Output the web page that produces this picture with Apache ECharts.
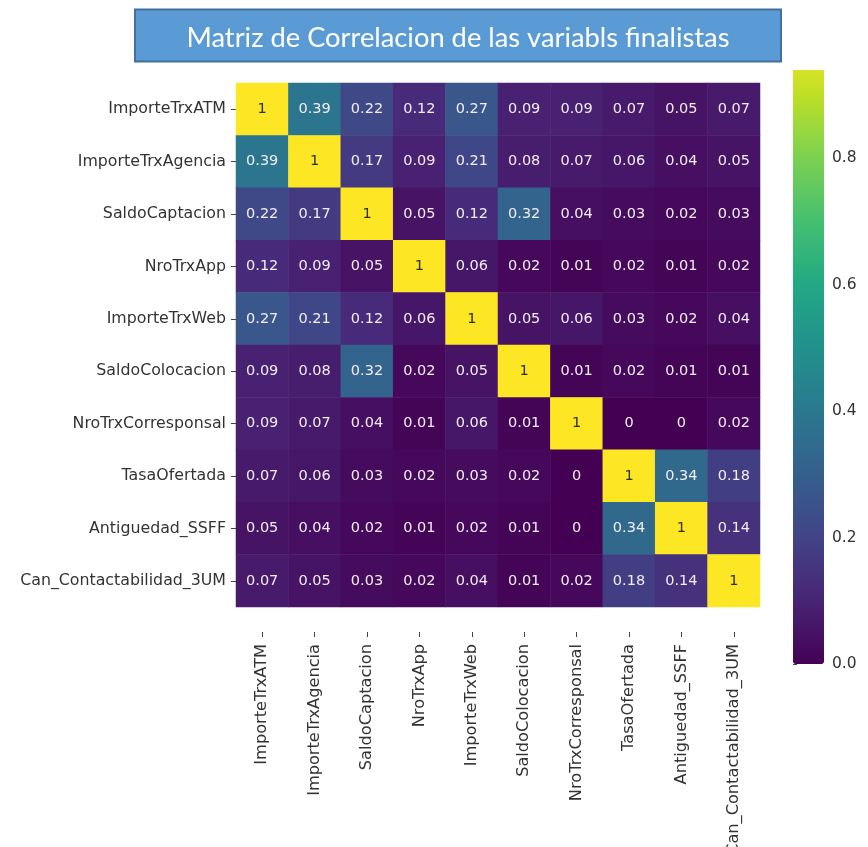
<!DOCTYPE html>
<html>
<head>
<meta charset="utf-8">
<script src="https://cdn.jsdelivr.net/npm/echarts@6/dist/echarts.min.js"></script>
<style>
  html, body { margin: 0; padding: 0; background: #ffffff; }
  #chart { width: 868px; height: 847px; }
</style>
</head>
<body>
<div id="chart"></div>
<script>
// Variables in the correlation matrix (rows top to bottom, columns left to right)
const variables = [
  'ImporteTrxATM', 'ImporteTrxAgencia', 'SaldoCaptacion', 'NroTrxApp',
  'ImporteTrxWeb', 'SaldoColocacion', 'NroTrxCorresponsal', 'TasaOfertada',
  'Antiguedad_SSFF', 'Can_Contactabilidad_3UM'
];

// Correlation rows, one array per variable
const rowImporteTrxATM        = [1, 0.39, 0.22, 0.12, 0.27, 0.09, 0.09, 0.07, 0.05, 0.07];
const rowImporteTrxAgencia    = [0.39, 1, 0.17, 0.09, 0.21, 0.08, 0.07, 0.06, 0.04, 0.05];
const rowSaldoCaptacion       = [0.22, 0.17, 1, 0.05, 0.12, 0.32, 0.04, 0.03, 0.02, 0.03];
const rowNroTrxApp            = [0.12, 0.09, 0.05, 1, 0.06, 0.02, 0.01, 0.02, 0.01, 0.02];
const rowImporteTrxWeb        = [0.27, 0.21, 0.12, 0.06, 1, 0.05, 0.06, 0.03, 0.02, 0.04];
const rowSaldoColocacion      = [0.09, 0.08, 0.32, 0.02, 0.05, 1, 0.01, 0.02, 0.01, 0.01];
const rowNroTrxCorresponsal   = [0.09, 0.07, 0.04, 0.01, 0.06, 0.01, 1, 0, 0, 0.02];
const rowTasaOfertada         = [0.07, 0.06, 0.03, 0.02, 0.03, 0.02, 0, 1, 0.34, 0.18];
const rowAntiguedadSSFF       = [0.05, 0.04, 0.02, 0.01, 0.02, 0.01, 0, 0.34, 1, 0.14];
const rowCanContactabilidad   = [0.07, 0.05, 0.03, 0.02, 0.04, 0.01, 0.02, 0.18, 0.14, 1];

const matrix = [
  rowImporteTrxATM, rowImporteTrxAgencia, rowSaldoCaptacion, rowNroTrxApp,
  rowImporteTrxWeb, rowSaldoColocacion, rowNroTrxCorresponsal, rowTasaOfertada,
  rowAntiguedadSSFF, rowCanContactabilidad
];

// Colour bar tick values
const colorbarTicks = [0.0, 0.2, 0.4, 0.6, 0.8];

const titleText = 'Matriz de Correlacion de las variabls finalistas';

// viridis colour stops
const viridis = ['#440154', '#482475', '#414487', '#355f8d', '#2a788e',
                 '#21918c', '#22a884', '#44bf70', '#7ad151', '#bddf26', '#fde725'];

const FONT = 'DejaVu Sans';

const cells = [];
matrix.forEach((row, r) => {
  row.forEach((v, c) => {
    cells.push({
      value: [c, r, v],
      label: { color: v > 0.6 ? '#2e2e18' : '#f3edf5' }
    });
  });
});

const chart = echarts.init(document.getElementById('chart'), null, { renderer: 'canvas' });

chart.setOption({
  backgroundColor: '#ffffff',
  animation: false,
  grid: [
    { left: 236, top: 83, width: 524, height: 524, containLabel: false, outerBoundsMode: 'none' },
    { left: 793, top: 32, width: 31, height: 632, containLabel: false, outerBoundsMode: 'none' }
  ],
  xAxis: [
    {
      type: 'category',
      gridIndex: 0,
      data: variables,
      position: 'bottom',
      offset: 25,
      axisLine: { show: false },
      axisTick: { show: true, length: 5, alignWithLabel: true, lineStyle: { color: '#444' } },
      axisLabel: { rotate: 90, margin: 12, fontFamily: FONT, fontSize: 16.2, color: '#333' },
      splitLine: { show: false }
    },
    {
      type: 'value', gridIndex: 1, show: false, min: 0, max: 1
    }
  ],
  yAxis: [
    {
      type: 'category',
      gridIndex: 0,
      data: variables,
      inverse: true,
      axisLine: { show: false },
      axisTick: { show: true, length: 5, alignWithLabel: true, lineStyle: { color: '#444' } },
      axisLabel: { margin: 10, fontFamily: FONT, fontSize: 15.8, color: '#333' },
      splitLine: { show: false }
    },
    {
      type: 'value',
      gridIndex: 1,
      position: 'right',
      min: 0,
      max: 1,
      interval: 0.2,
      axisLine: { show: false },
      axisTick: { show: true, length: 4, lineStyle: { color: '#444' } },
      axisLabel: {
        margin: 8, fontFamily: FONT, fontSize: 15.5, color: '#333',
        formatter: v => (colorbarTicks.some(t => Math.abs(t - v) < 1e-9) ? v.toFixed(1) : '')
      },
      splitLine: { show: false }
    }
  ],
  visualMap: {
    type: 'continuous',
    seriesIndex: 0,
    min: 0,
    max: 1,
    orient: 'vertical',
    left: 793,
    top: 32,
    itemWidth: 31,
    itemHeight: 632,
    padding: 0,
    calculable: false,
    hoverLink: false,
    indicatorStyle: { opacity: 0 },
    handleStyle: { opacity: 0 },
    inRange: { color: viridis }
  },
  series: [
    {
      type: 'heatmap',
      xAxisIndex: 0,
      yAxisIndex: 0,
      data: cells,
      label: {
        show: true,
        fontFamily: FONT,
        fontSize: 14.5,
        formatter: p => String(p.value[2])
      },
      itemStyle: { borderWidth: 0 },
      emphasis: { disabled: true }
    }
  ],
  graphic: [
    {
      type: 'rect',
      z: 100,
      shape: { x: 0, y: 0, width: 868, height: 70 },
      style: { fill: '#ffffff' }
    },
    {
      type: 'rect',
      z: 101,
      shape: { x: 135, y: 9.5, width: 646, height: 52 },
      style: { fill: '#5b9bd5', stroke: '#41719c', lineWidth: 2 }
    },
    {
      type: 'text',
      z: 102,
      x: 458,
      y: 38.5,
      style: {
        text: titleText,
        fill: '#ffffff',
        font: '27.3px Lato',
        textAlign: 'center',
        textVerticalAlign: 'middle'
      }
    }
  ]
});
</script>
</body>
</html>
